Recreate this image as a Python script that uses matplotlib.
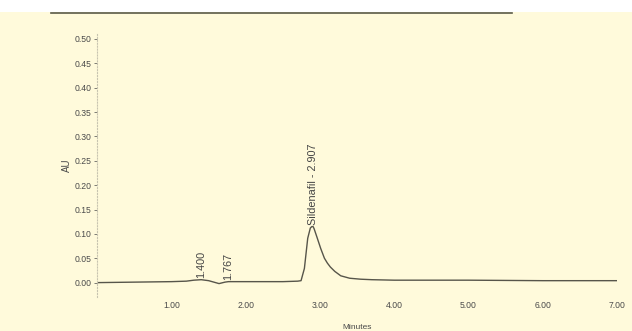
import matplotlib.pyplot as plt
from matplotlib.patches import Rectangle
from matplotlib.lines import Line2D

# chromatogram trace (minutes, AU)
t = [0.0, 0.5, 1.0, 1.2, 1.3, 1.4, 1.5, 1.64, 1.72, 1.767, 1.9, 2.2, 2.5, 2.7,
     2.745, 2.79, 2.835, 2.87, 2.89, 2.907, 2.92, 2.96, 3.01, 3.06, 3.10,
     3.14, 3.2, 3.28, 3.4, 3.55, 3.7, 4.0, 5.0, 6.0, 7.0]
au = [0.0, 0.001, 0.002, 0.003, 0.005, 0.006, 0.004, -0.002, 0.001, 0.002,
      0.002, 0.002, 0.002, 0.003, 0.004, 0.029, 0.091, 0.112, 0.115, 0.115,
      0.111, 0.093, 0.070, 0.050, 0.040, 0.032, 0.023, 0.014, 0.009, 0.007,
      0.006, 0.005, 0.005, 0.004, 0.004]

peak_t = [1.400, 1.767, 2.907]
peak_h = [0.006, 0.002, 0.115]
peak_lbl = ['1.400', '1.767', 'Sildenafil - 2.907']

xticks = [1, 2, 3, 4, 5, 6, 7]
yticks = [0.0, 0.05, 0.10, 0.15, 0.20, 0.25, 0.30, 0.35, 0.40, 0.45, 0.50]

bg = '#fffadb'
plt.rcParams['font.family'] = ['Liberation Sans', 'DejaVu Sans']

fig = plt.figure(figsize=(6.32, 3.31), dpi=100, facecolor=bg)
# white strip and ruled line at the top of the scanned page
fig.patches.append(Rectangle((0, 0.963), 1, 0.037, transform=fig.transFigure,
                             facecolor='white', edgecolor='none', zorder=0))
fig.lines.append(Line2D([0.08, 0.81], [0.96, 0.96], transform=fig.transFigure,
                        color='#5a5a48', lw=1.2))

ax = fig.add_axes([0.154, 0.102, 0.822, 0.795])
ax.set_facecolor(bg)
ax.plot(t, au, color='#57554a', lw=1.0)

for x, h, s in zip(peak_t, peak_h, peak_lbl):
    ax.text(x, h + 0.004, s, rotation=90, ha='center', va='bottom',
            fontsize=7.8, color='#444444')

ax.set_xlim(0, 7.0)
ax.set_ylim(-0.03, 0.51)
ax.set_xticks(xticks)
ax.set_xticklabels(['%.2f' % v for v in xticks])
ax.set_yticks(yticks)
ax.set_yticklabels(['%.2f' % v for v in yticks])
ax.tick_params(labelsize=6.2, colors='#4a4a4a', length=2, width=0.5, pad=2)
ax.tick_params(axis='x', length=0, pad=3)

for side in ['top', 'right', 'bottom']:
    ax.spines[side].set_visible(False)
ax.spines['left'].set_color('#c8c4b0')
ax.spines['left'].set_linestyle(':')
ax.spines['left'].set_linewidth(0.8)

ax.set_xlabel('Minutes', fontsize=6, color='#4a4a4a', labelpad=10)
ax.set_ylabel('AU', fontsize=7, color='#4a4a4a', labelpad=2)

fig.savefig('out.png', dpi=100, facecolor=bg)
